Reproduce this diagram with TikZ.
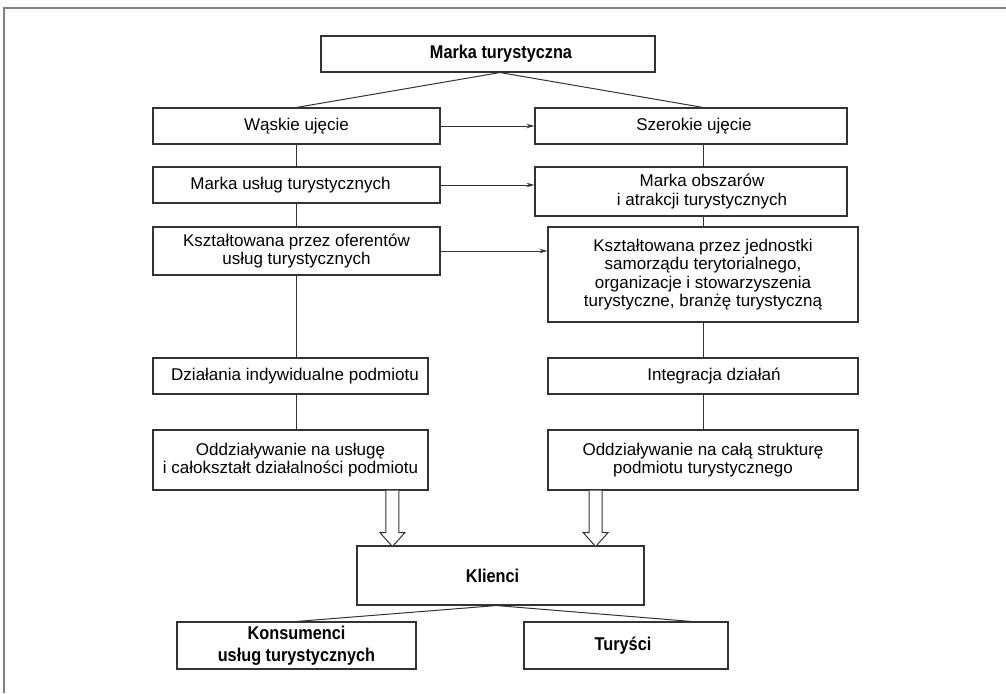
\documentclass[tikz,border=0pt]{standalone}
\usepackage{fontspec}
\setmainfont{Liberation Sans}
\newfontfamily\condbold[FakeStretch=0.88]{Liberation Sans}
\usetikzlibrary{calc,arrows.meta}

\definecolor{ink}{HTML}{333333}
\definecolor{framegray}{HTML}{808080}

\tikzset{
  plainbox/.style={draw=ink, line width=1.1pt, inner sep=0pt, align=center,
    font=\fontsize{17}{18.3}\selectfont},
  boldbox/.style={plainbox, font=\condbold\fontsize{18.5}{22.5}\selectfont\bfseries},
  link/.style={draw=ink, line width=1pt},
  pointer/.style={link, -{Stealth[length=8pt,width=4.5pt]}},
  hollowarrow/.style={draw=ink, line width=1pt, fill=white, line join=miter},
}

\begin{document}
\begin{tikzpicture}[x=1pt, y=-1pt]
\useasboundingbox (0,0) rectangle (1006,693);

% outer frame (top and left edges)
\draw[framegray, line width=1.5pt] (4,693) -- (4,8) -- (1006,8);

% top level
\node[boldbox, minimum width=334pt, minimum height=36pt] (mt) at (488,54)
  {\hspace*{26pt}Marka turystyczna};

% left column
\node[plainbox, minimum width=287pt, minimum height=36pt] (wu) at (296.5,126) {Wąskie ujęcie};
\node[plainbox, minimum width=287pt, minimum height=36pt] (mu) at (296.5,185) {\hspace*{-12pt}Marka usług turystycznych};
\node[plainbox, minimum width=287pt, minimum height=48pt] (kl) at (296.5,251)
  {Kształtowana przez oferentów\\usług turystycznych};
\node[plainbox, minimum width=275pt, minimum height=36pt] (di) at (290.5,376) {\hspace*{9pt}Działania indywidualne podmiotu};
\node[plainbox, minimum width=275pt, minimum height=60pt] (ol) at (290.5,460)
  {Oddziaływanie na usługę\\i całokształt działalności podmiotu};

% right column
\node[plainbox, minimum width=312pt, minimum height=36pt] (su) at (691,126) {\hspace*{6pt}Szerokie ujęcie};
\node[plainbox, minimum width=312pt, minimum height=49pt] (mo) at (691,191.5)
  {\hspace*{22pt}Marka obszarów\\\hspace*{22pt}i atrakcji turystycznych};
\node[plainbox, minimum width=310pt, minimum height=95pt] (kr) at (703,274.5)
  {Kształtowana przez jednostki\\samorządu terytorialnego,\\organizacje i stowarzyszenia\\turystyczne, branżę turystyczną};
\node[plainbox, minimum width=310pt, minimum height=36pt] (ig) at (703,376) {\hspace*{22pt}Integracja działań};
\node[plainbox, minimum width=310pt, minimum height=60pt] (or) at (703,460)
  {Oddziaływanie na całą strukturę\\podmiotu turystycznego};

% customers
\node[boldbox, minimum width=287pt, minimum height=59pt] (kc) at (500.5,575.5) {Klienci\hspace*{16pt}};
\node[boldbox, minimum width=239pt, minimum height=47pt] (ko) at (296.5,645.5)
  {Konsumenci\\usług turystycznych};
\node[boldbox, minimum width=204pt, minimum height=47pt] (tu) at (626,645.5) {Turyści\hspace*{6pt}};

% branching from the brand
\coordinate (mtfork) at ($(mt.south)+(12,0)$);
\draw[link] (wu.north) -- (mtfork) -- (kr.north |- su.north);

% left spine
\draw[link] (wu.south) -- (mu.north);
\draw[link] (mu.south) -- (kl.north);
\draw[link] (kl.south) -- (kl.south |- di.north);
\draw[link] (kl.south |- di.south) -- (kl.south |- ol.north);

% right spine
\draw[link] (kr.north |- su.south) -- (kr.north |- mo.north);
\draw[link] (kr.north |- mo.south) -- (kr.north);
\draw[link] (kr.south) -- (ig.north);
\draw[link] (ig.south) -- (or.north);

% horizontal pointers
\draw[pointer] (wu.east) -- (wu.east -| su.west);
\draw[pointer] (mu.east) -- (mu.east -| mo.west);
\draw[pointer] (kl.east) -- (kl.east -| kr.west);

% hollow arrows into the customers box
\coordinate (lfeed) at ($(ol.south west)!0.8691!(ol.south east)$);
\coordinate (rfeed) at ($(or.south west)!0.1548!(or.south east)$);
\foreach \src in {lfeed, rfeed} {
  \draw[hollowarrow] (\src) ++(-6.5,0) -- ++(0,42) -- ++(-6,0) -- ++(12.5,14)
    -- ++(12.5,-14) -- ++(-6,0) -- ++(0,-42);
}

% split of customers
\coordinate (tufoot) at ($(tu.north west)!0.819!(tu.north east)$);
\draw[link] (ko.north) -- ($(kc.south)+(-4,0)$) -- (tufoot);
\end{tikzpicture}
\end{document}
